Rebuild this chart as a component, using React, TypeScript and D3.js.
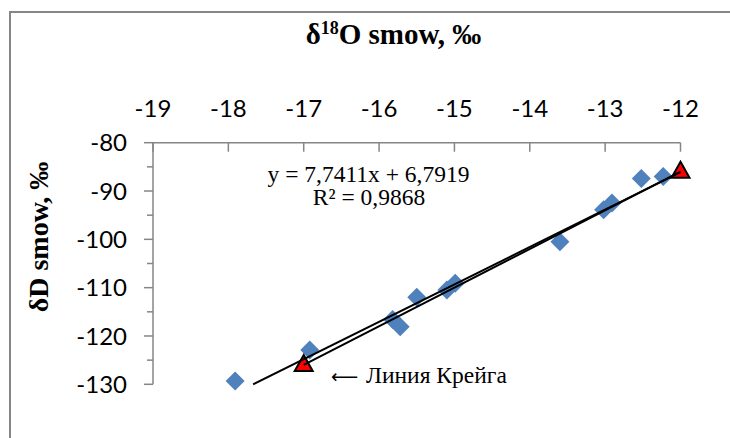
import React from "react";
import * as d3 from "d3";

const sampleO18 = [-17.91, -16.92, -15.82, -15.72, -15.5, -15.1, -14.99, -13.6, -13.02, -12.91, -12.52, -12.23];
const sampleD = [-129.3, -122.9, -116.6, -118.1, -112.0, -110.5, -109.1, -100.5, -93.9, -92.5, -87.4, -87.0];

const craigO18 = [-17, -12];
const craigD = [-126, -86];

const trendSlope = 7.7411;
const trendIntercept = 6.7919;

const xTicks = [-19, -18, -17, -16, -15, -14, -13, -12];
const yTicks = [-80, -90, -100, -110, -120, -130];
const yMinorTicks = [-85, -95, -105, -115, -125];

const W = 730;
const H = 438;

export default function App() {
  const x = d3.scaleLinear().domain([-19, -12]).range([153, 680.5]);
  const y = d3.scaleLinear().domain([-80, -130]).range([142.7, 384.3]);
  const gray = "#868686";
  const tickFont = "Lato, 'Open Sans', sans-serif";
  const serif = "'Liberation Serif', 'Times New Roman', serif";

  const trendStartX = (-130 - trendIntercept) / trendSlope;
  const trendPts: [number, number][] = [trendStartX, -12].map((v) => [x(v), y(trendSlope * v + trendIntercept)]);
  const craigPts: [number, number][] = craigO18.map((v, i) => [x(v), y(craigD[i])]);
  const line = d3.line();

  const dm = 9.5;
  const diamond = (cx: number, cy: number) =>
    `M${cx},${cy - dm}L${cx + dm},${cy}L${cx},${cy + dm}L${cx - dm},${cy}Z`;
  const tri = (cx: number, cy: number) =>
    `M${cx},${cy - 10}L${cx + 9},${cy + 6}L${cx - 9},${cy + 6}Z`;

  return (
    <svg
      width={W}
      height={H}
      style={{ position: "fixed", left: 0, top: 0, background: "#fff" }}
    >
      <rect x={0} y={0} width={W} height={H} fill="#fff" />
      <rect x={10} y={12} width={900} height={600} fill="none" stroke={gray} strokeWidth={2} />

      {/* title */}
      <text x={393.5} y={43.5} textAnchor="middle" fontFamily={serif} fontWeight="bold" fontSize={29}>
        δ<tspan fontSize={18} dy={-10}>18</tspan>
        <tspan dy={10}>O smow, ‰</tspan>
      </text>

      {/* y title */}
      <text
        transform="translate(48,237) rotate(-90)"
        textAnchor="middle"
        fontFamily={serif}
        fontWeight="bold"
        fontSize={28}
      >
        δD smow, ‰
      </text>

      {/* x axis */}
      <line x1={x(-19)} x2={x(-12)} y1={y(-80)} y2={y(-80)} stroke={gray} strokeWidth={1.5} />
      {xTicks.map((t) => (
        <g key={"xt" + t}>
          <line x1={x(t)} x2={x(t)} y1={y(-80)} y2={y(-80) + 9} stroke={gray} strokeWidth={1.5} />
          <text x={x(t)} y={116.5} textAnchor="middle" fontFamily={tickFont} fontSize={24} fill="#000">
            {t}
          </text>
        </g>
      ))}

      {/* y axis */}
      <line x1={x(-19)} x2={x(-19)} y1={y(-80)} y2={y(-130)} stroke={gray} strokeWidth={1.5} />
      {yTicks.map((t) => (
        <g key={"yt" + t}>
          <line x1={x(-19) - 9} x2={x(-19)} y1={y(t)} y2={y(t)} stroke={gray} strokeWidth={1.5} />
          <text
            x={127}
            y={y(t)}
            dy="0.36em"
            textAnchor="end"
            fontFamily={tickFont}
            fontSize={24}
            fill="#000"
          >
            {t}
          </text>
        </g>
      ))}
      {yMinorTicks.map((t) => (
        <line key={"ym" + t} x1={x(-19) - 6} x2={x(-19)} y1={y(t)} y2={y(t)} stroke={gray} strokeWidth={1.5} />
      ))}

      {/* diamonds */}
      {sampleO18.map((v, i) => (
        <path key={"d" + i} d={diamond(x(v), y(sampleD[i]))} fill="#4f81bd" />
      ))}

      {/* triangles */}
      {craigO18.map((v, i) => (
        <path key={"t" + i} d={tri(x(v), y(craigD[i]))} fill="#ff0000" stroke="#000" strokeWidth={2} strokeLinejoin="miter" />
      ))}

      {/* lines */}
      <path d={line(trendPts) || ""} stroke="#000" strokeWidth={2} fill="none" />
      <path d={line(craigPts) || ""} stroke="#000" strokeWidth={2} fill="none" />

      {/* equation */}
      <text x={368.5} y={181.5} textAnchor="middle" fontFamily={serif} fontSize={23.5}>
        y = 7,7411x + 6,7919
      </text>
      <text x={369} y={205} textAnchor="middle" fontFamily={serif} fontSize={23.5}>
        R² = 0,9868
      </text>

      {/* label */}
      <text y={383.3} fontFamily={serif} fontSize={23.5}>
        <tspan x={331} fontFamily="'DejaVu Sans', sans-serif" fontSize={19}>⟵</tspan>
        <tspan x={366}>Линия Крейга</tspan>
      </text>
    </svg>
  );
}
